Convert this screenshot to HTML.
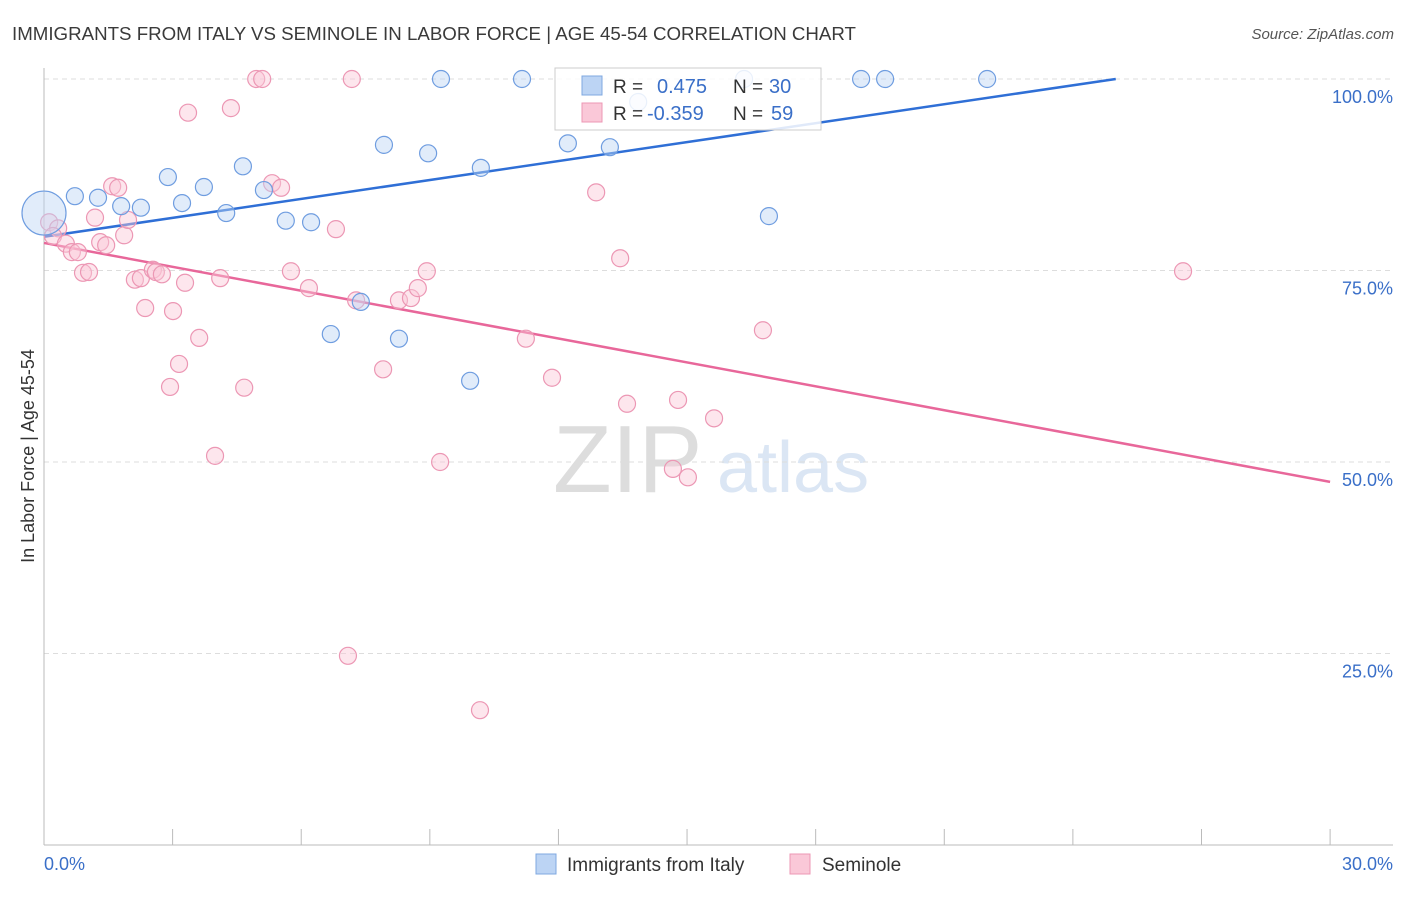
<!DOCTYPE html>
<html><head><meta charset="utf-8"><style>
body{margin:0;background:#fff;font-family:"Liberation Sans",sans-serif}
svg text{font-family:"Liberation Sans",sans-serif}
</style></head><body>
<svg id="chart" width="1406" height="892" viewBox="0 0 1406 892">
<text x="12" y="40" font-size="18.5" fill="#3a3a3a" textLength="844" lengthAdjust="spacingAndGlyphs">IMMIGRANTS FROM ITALY VS SEMINOLE IN LABOR FORCE | AGE 45-54 CORRELATION CHART</text>
<text x="1394" y="39" font-size="15" fill="#555" font-style="italic" text-anchor="end">Source: ZipAtlas.com</text>
<g>
<text x="553" y="492" font-size="96" fill="#ddd" font-family="Liberation Serif, serif">ZIP</text>
<text x="717" y="492" font-size="72" fill="#dbe6f4">atlas</text>
</g>
<g id="grid"></g>
<g id="axes"></g>
<g id="trends"></g>
<g id="points"></g>
<g>
<rect x="555" y="68" width="266" height="62" fill="#fff" fill-opacity="0.85" stroke="#ccc"/>
<rect x="582" y="76" width="20" height="19" fill="#bcd4f4" stroke="#7fa8e0"/>
<rect x="582" y="103" width="20" height="19" fill="#fac8d8" stroke="#ec97b4"/>
<text x="613" y="93" font-size="19" fill="#333">R = </text><text x="657" y="93" font-size="20" fill="#3a6fc8">0.475</text>
<text x="733" y="93" font-size="19" fill="#333">N = </text><text x="769" y="93" font-size="20" fill="#3a6fc8">30</text>
<text x="613" y="120" font-size="19" fill="#333">R = </text><text x="647" y="120" font-size="20" fill="#3a6fc8">-0.359</text>
<text x="733" y="120" font-size="19" fill="#333">N = </text><text x="771" y="120" font-size="20" fill="#3a6fc8">59</text>
</g>
<g>
<rect x="536" y="854" width="20" height="20" fill="#bcd4f4" stroke="#7fa8e0"/>
<text x="567" y="871" font-size="19" fill="#333">Immigrants from Italy</text>
<rect x="790" y="854" width="20" height="20" fill="#fac8d8" stroke="#ec97b4"/>
<text x="822" y="871" font-size="19" fill="#333">Seminole</text>
</g>
<text transform="translate(34,456) rotate(-90)" font-size="18" fill="#333" text-anchor="middle">In Labor Force | Age 45-54</text>
</svg>
<script>
const italyX=[0.0,0.72,1.26,1.80,2.26,2.89,3.22,3.73,4.25,4.64,5.13,5.64,6.23,7.39,6.69,7.93,8.28,8.96,9.26,9.94,10.19,11.15,12.22,13.20,13.86,16.33,16.91,19.06,19.62,22.0];
const italyY=[82.5,84.7,84.5,83.4,83.2,87.2,83.8,85.9,82.5,88.6,85.5,81.5,81.3,70.9,66.7,91.4,66.1,90.3,100,60.6,88.4,100,91.6,91.1,97.0,100,82.1,100,100,100];
const seminoleX=[0.12,0.33,0.21,0.51,0.65,0.79,0.91,1.05,1.19,1.31,1.45,1.59,1.73,1.87,1.96,2.12,2.26,2.36,2.54,2.61,2.75,2.94,3.01,3.15,3.29,3.36,3.62,3.99,4.11,4.36,4.67,4.95,5.09,5.32,5.53,5.76,6.18,6.81,7.09,7.18,7.28,7.91,8.28,8.56,8.72,8.93,9.24,10.17,11.24,11.85,12.88,13.44,13.60,14.67,14.79,15.02,15.63,16.77,26.57];
const seminoleY=[81.3,80.5,79.5,78.5,77.4,77.4,74.7,74.8,81.9,78.7,78.3,86.0,85.8,79.6,81.6,73.8,74.0,70.1,75.1,74.8,74.5,59.8,69.7,62.8,73.4,95.6,66.2,50.8,74.0,96.2,59.7,100,100,86.4,85.8,74.9,72.7,80.4,24.7,100,71.1,62.1,71.1,71.4,72.7,74.9,50.0,17.6,66.1,61.0,85.2,76.6,57.6,49.1,58.1,48.0,55.7,67.2,74.9];
const italyTrend=[79.4,0.824];   // intercept, slope
const seminoleTrend=[78.6,-1.04];
const yTicks=[100,75,50,25];
const yTickLabels=["100.0%","75.0%","50.0%","25.0%"];
const xTicks=[0,3,6,9,12,15,18,21,24,27,30];

const NS="http://www.w3.org/2000/svg";
const X=v=>44+v*42.87, Y=v=>79+(100-v)*7.66;
function mk(parent,tag,attrs){const e=document.createElementNS(NS,tag);for(const k in attrs)e.setAttribute(k,attrs[k]);document.getElementById(parent).appendChild(e);return e;}
yTicks.forEach((t,i)=>{
  const l=mk('grid','line',{x1:44,x2:1393,y1:Y(t),y2:Y(t),stroke:'#ddd','stroke-dasharray':'5,4'});
  
  
  const tx=mk('grid','text',{x:1393,y:Y(t)+24,'font-size':18,fill:'#3a6fc8','text-anchor':'end'});
  tx.textContent=yTickLabels[i];
  
  
});
const ya=mk('axes','line',{x1:44,x2:44,y1:68,y2:845,stroke:'#bbb'});


const xa=mk('axes','line',{x1:44,x2:1393,y1:845,y2:845,stroke:'#bbb'});


xTicks.forEach(t=>{
  const l=mk('axes','line',{x1:X(t),x2:X(t),y1:829,y2:845,stroke:'#bbb'});
  
  
});
[[0,'0.0%','start',44],[30,'30.0%','end',1393]].forEach(a=>{
  const t=mk('axes','text',{x:a[3],y:870,'font-size':18,fill:'#3a6fc8','text-anchor':a[2]});
  t.textContent=a[1];
  
  
});
function pts(xs,ys,fill,stroke,name){
  xs.forEach((x,i)=>{
    const c=mk('points','circle',{cx:X(x),cy:Y(ys[i]),r:(i===0&&name==='italy-point')?22:8.5,fill:fill,'fill-opacity':0.45,stroke:stroke,'stroke-width':1.2});
    
    
  });
}
pts(seminoleX,seminoleY,'#fac8d8','#ec97b4','seminole-point');
pts(italyX,italyY,'#bcd4f4','#6f9de0','italy-point');
const bEnd=(100-italyTrend[0])/italyTrend[1];
const bl=mk('trends','line',{x1:X(0),y1:Y(italyTrend[0]),x2:X(bEnd),y2:Y(100),stroke:'#2f6fd6','stroke-width':2.5});


const pl=mk('trends','line',{x1:X(0),y1:Y(seminoleTrend[0]),x2:X(30),y2:Y(seminoleTrend[0]+30*seminoleTrend[1]),stroke:'#e8679a','stroke-width':2.5});


</script>
</body></html>
